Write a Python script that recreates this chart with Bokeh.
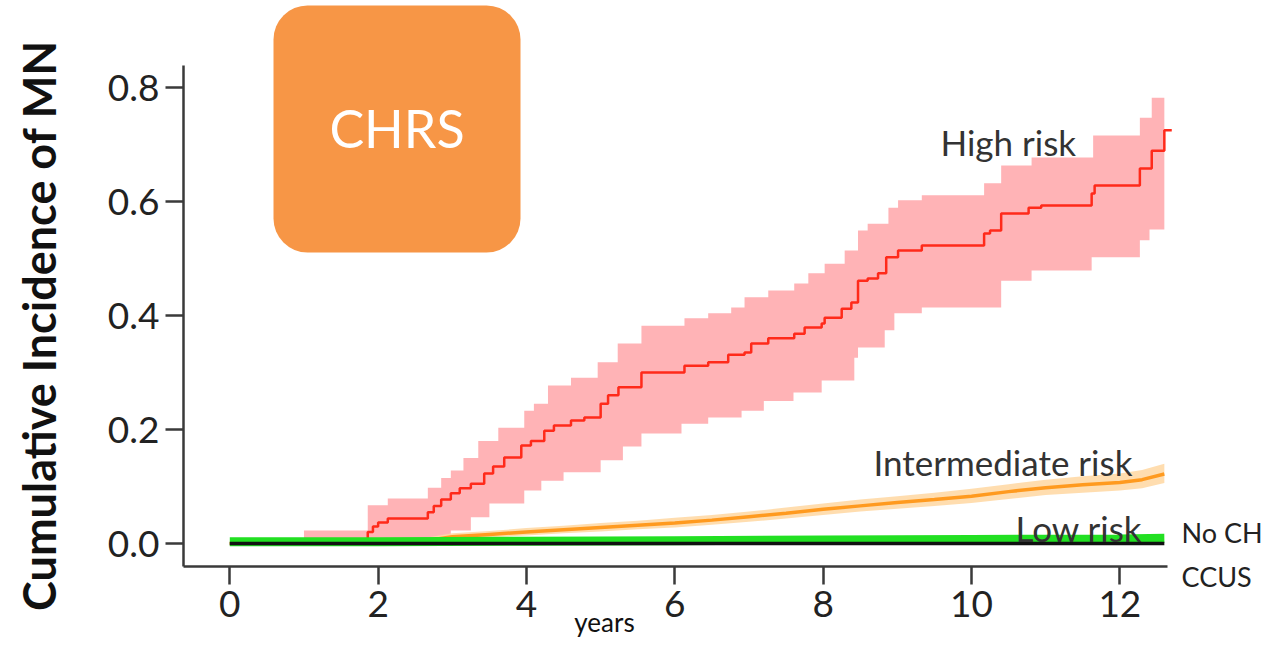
from bokeh.plotting import figure
from bokeh.models import Range1d, Label, BoxAnnotation, FixedTicker, NumeralTickFormatter
from bokeh.embed import file_html
from bokeh.resources import INLINE
import math

# ---------------- data ----------------
# High risk: cumulative incidence step function
high_x = [0, 1.00, 1.86, 1.93, 2.00, 2.13, 2.67, 2.75, 2.85, 2.98, 3.10, 3.25, 3.43, 3.55, 3.70, 3.93,
          4.06, 4.24, 4.37, 4.60, 4.78, 5.00, 5.10, 5.24, 5.55, 6.13, 6.45, 6.72, 6.94, 7.03, 7.26,
          7.61, 7.75, 7.98, 8.02, 8.25, 8.38, 8.47, 8.60, 8.74, 8.85, 9.01, 9.33, 10.17, 10.25,
          10.40, 10.77, 10.94, 11.62, 11.66, 12.27, 12.43, 12.60, 12.70]
high_y = [0, 0.007, 0.020, 0.030, 0.037, 0.044, 0.055, 0.066, 0.077, 0.088, 0.097, 0.105, 0.123, 0.135,
          0.151, 0.172, 0.180, 0.198, 0.207, 0.216, 0.221, 0.245, 0.260, 0.274, 0.300, 0.312, 0.318,
          0.331, 0.335, 0.351, 0.360, 0.368, 0.379, 0.386, 0.396, 0.412, 0.423, 0.461, 0.465, 0.474,
          0.502, 0.514, 0.523, 0.544, 0.549, 0.579, 0.589, 0.593, 0.614, 0.628, 0.658, 0.689, 0.725, 0.725]

# High risk: confidence band (upper / lower step functions)
high_up_x = [1.00, 1.86, 2.13, 2.67, 2.85, 2.98, 3.15, 3.35, 3.62, 3.97, 4.10, 4.29, 4.60, 4.96, 5.23,
             5.55, 6.13, 6.45, 6.76, 6.94, 7.26, 7.61, 7.80, 8.02, 8.29, 8.47, 8.60, 8.88, 9.01, 9.33,
             10.17, 10.40, 10.81, 11.64, 12.27, 12.43]
high_up_y = [0.023, 0.067, 0.079, 0.098, 0.115, 0.128, 0.150, 0.180, 0.203, 0.233, 0.245, 0.277, 0.291,
             0.318, 0.351, 0.382, 0.395, 0.404, 0.414, 0.432, 0.444, 0.456, 0.474, 0.491, 0.514, 0.549,
             0.561, 0.589, 0.602, 0.611, 0.632, 0.663, 0.677, 0.716, 0.747, 0.782]
high_lo_x = [1.00, 2.70, 2.85, 2.98, 3.25, 3.50, 3.97, 4.20, 4.50, 5.00, 5.30, 5.55, 6.09, 6.45, 6.90,
             7.20, 7.60, 7.98, 8.42, 8.47, 8.83, 8.96, 9.33, 10.40, 10.81, 11.62, 12.27, 12.40]
high_lo_y = [0.0, 0.0, 0.012, 0.023, 0.046, 0.070, 0.093, 0.110, 0.125, 0.146, 0.170, 0.193, 0.210,
             0.221, 0.233, 0.250, 0.265, 0.286, 0.326, 0.344, 0.374, 0.404, 0.414, 0.461, 0.479, 0.502,
             0.532, 0.551]
band_end = 12.60

# Intermediate risk
inter_x = [0, 2.0, 2.6, 3.0, 3.5, 4.0, 4.5, 5.0, 5.5, 6.0, 6.5, 7.0, 7.5, 8.0, 8.5, 9.0, 9.5, 10.0,
           10.5, 11.0, 11.5, 12.0, 12.3, 12.6]
inter_y = [0, 0.002, 0.004, 0.012, 0.016, 0.020, 0.024, 0.028, 0.032, 0.036, 0.041, 0.047, 0.053,
           0.060, 0.066, 0.072, 0.077, 0.083, 0.091, 0.098, 0.103, 0.107, 0.112, 0.122]
inter_up = [0.003, 0.006, 0.009, 0.018, 0.022, 0.027, 0.031, 0.036, 0.040, 0.045, 0.050, 0.056, 0.063,
            0.070, 0.077, 0.083, 0.089, 0.096, 0.104, 0.112, 0.118, 0.123, 0.129, 0.140]
inter_lo = [0.0, 0.0, 0.001, 0.007, 0.011, 0.014, 0.018, 0.021, 0.025, 0.028, 0.033, 0.038, 0.044,
            0.050, 0.056, 0.061, 0.066, 0.071, 0.078, 0.085, 0.089, 0.093, 0.097, 0.106]

# Low risk and No CH / CCUS
low_x = [0, 2, 4, 6, 8, 10, 12, 12.6]
low_y = [0.003, 0.003, 0.004, 0.005, 0.006, 0.007, 0.008, 0.009]
noch_x = [0, 12.6]
noch_y = [0.0, 0.0]

x_ticks = [0, 2, 4, 6, 8, 10, 12]
y_ticks = [0.0, 0.2, 0.4, 0.6, 0.8]

# ---------------- geometry helpers (canvas pixel -> data) ----------------
X0, XS = 229.3, 74.17   # canvas x of year 0, px per year
Y0, YS = 543.0, 570.0   # canvas y of 0.0, px per unit


def dx(px):
    return (px - X0) / XS


def dy(py):
    return (Y0 - py) / YS


def step_coords(xs, ys, x_end):
    X, Y = [], []
    for i in range(len(xs)):
        x1 = xs[i + 1] if i + 1 < len(xs) else x_end
        X += [xs[i], x1]
        Y += [ys[i], ys[i]]
    return X, Y


W, H = 1262, 641
axis_left, axis_right, axis_top, axis_bottom = 183, 1167, 65, 566

# The frame covers the whole canvas; axes are drawn at fixed data locations.
p = figure(width=W, height=H, output_backend="svg", toolbar_location=None,
           x_range=Range1d(dx(0), dx(W)), y_range=Range1d(dy(H), dy(0)),
           min_border=0)
p.outline_line_color = None
p.grid.visible = False
p.background_fill_color = "white"
p.border_fill_color = "white"

for ax in (p.xaxis[0], p.yaxis[0]):
    ax.axis_line_width = 2.5
    ax.axis_line_color = "#3a3a3a"
    ax.major_tick_line_width = 2.5
    ax.major_tick_line_color = "#3a3a3a"
    ax.major_tick_in = 0
    ax.major_tick_out = 18
    ax.minor_tick_line_color = None
    ax.major_label_text_font = "Lato"
    ax.major_label_text_font_size = "37px"
    ax.major_label_text_color = "#222222"
    ax.major_label_standoff = 6
p.xaxis.ticker = FixedTicker(ticks=x_ticks)
p.yaxis.ticker = FixedTicker(ticks=y_ticks)
p.yaxis.formatter = NumeralTickFormatter(format="0.0")
p.xaxis.fixed_location = dy(axis_bottom)
p.xaxis.bounds = (dx(axis_left), dx(axis_right))
p.yaxis.fixed_location = dx(axis_left)
p.yaxis.bounds = (dy(axis_bottom), dy(axis_top))

# High-risk band
ux, uy = step_coords(high_up_x, high_up_y, band_end)
lx, ly = step_coords(high_lo_x, high_lo_y, band_end)
p.patch(ux + lx[::-1], uy + ly[::-1], fill_color="#FFB3B6", fill_alpha=1.0, line_color=None)

# Intermediate band + line
p.varea(x=inter_x, y1=inter_lo, y2=inter_up, fill_color="#FFD9A6", fill_alpha=0.9)
p.line(inter_x, inter_y, line_color="#FF9A1F", line_width=3.5)

# High risk line
p.step(high_x, high_y, mode="after", line_color="#FF2A1A", line_width=2.5)

# Low risk and No CH
p.line(low_x, low_y, line_color="#22E022", line_width=9)
p.line(noch_x, noch_y, line_color="#111111", line_width=3.5)

# ---------------- annotations ----------------
box = BoxAnnotation(left=dx(273), right=dx(520), top=dy(5), bottom=dy(252),
                    fill_color="#F79646", fill_alpha=1.0, line_color=None, border_radius=34)
p.add_layout(box)
p.add_layout(Label(x=dx(396.5), y=dy(127), text="CHRS", text_align="center", text_baseline="middle",
                   text_color="white", text_font="Lato", text_font_size="52px"))

lab_style = dict(text_font="Lato", text_font_size="35px", text_color="#333333",
                 text_baseline="alphabetic", text_align="left")
p.add_layout(Label(x=dx(940), y=dy(141), text="High risk", **lab_style))
p.add_layout(Label(x=dx(873), y=dy(461), text="Intermediate risk", **lab_style))
p.add_layout(Label(x=dx(1015), y=dy(527), text="Low risk", **lab_style))

side_style = dict(text_font="Lato", text_font_size="27px", text_color="#222222",
                  text_baseline="alphabetic", text_align="left")
p.add_layout(Label(x=dx(1181), y=dy(532), text="No CH", **side_style))
p.add_layout(Label(x=dx(1181), y=dy(576), text="CCUS", **side_style))
p.add_layout(Label(x=dx(604), y=dy(621), text="years", text_font="Lato", text_font_size="26px",
                   text_color="#111111", text_baseline="alphabetic", text_align="center"))
p.add_layout(Label(x=dx(38), y=dy(325), text="Cumulative Incidence of MN", angle=math.pi / 2,
                   text_font="Lato", text_font_style="bold", text_font_size="45px",
                   text_color="#111111", text_baseline="middle", text_align="center"))

open("out.html", "w").write(file_html(p, INLINE))
